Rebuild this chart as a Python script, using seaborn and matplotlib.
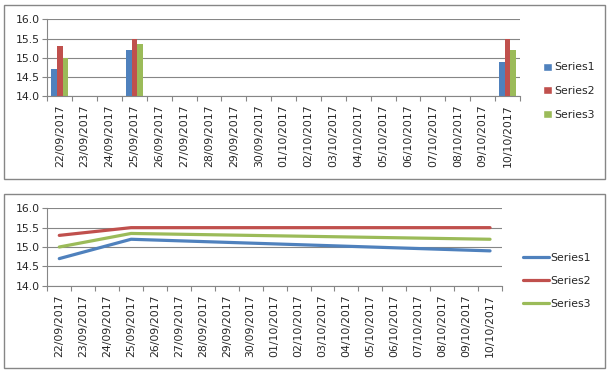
import pandas as pd
import matplotlib.pyplot as plt
import seaborn as sns
from matplotlib.patches import Rectangle
from matplotlib.ticker import FixedLocator, NullFormatter

#######################
#
# DATA
#
#######################
DATES = ['22/09/2017', '23/09/2017', '24/09/2017', '25/09/2017', '26/09/2017',
         '27/09/2017', '28/09/2017', '29/09/2017', '30/09/2017', '01/10/2017',
         '02/10/2017', '03/10/2017', '04/10/2017', '05/10/2017', '06/10/2017',
         '07/10/2017', '08/10/2017', '09/10/2017', '10/10/2017']
OBS_DATES = ['22/09/2017', '25/09/2017', '10/10/2017']
SERIES1 = [14.7, 15.2, 14.9]
SERIES2 = [15.3, 15.5, 15.5]
SERIES3 = [15.0, 15.35, 15.2]
SERIES_NAMES = ['Series1', 'Series2', 'Series3']
Y_TICKS = [14.0, 14.5, 15.0, 15.5, 16.0]

COLORS = ['#4F81BD', '#C0504D', '#9BBB59']
GRID = '#868686'
FS = 7.8

rows = []
for name, vals in zip(SERIES_NAMES, [SERIES1, SERIES2, SERIES3]):
    for d, v in zip(OBS_DATES, vals):
        rows.append({'date': d, 'pos': DATES.index(d), 'series': name, 'value': v})
df = pd.DataFrame(rows)

sns.set_style('white')
plt.rcParams['font.family'] = ['DejaVu Sans']

W, H = 608, 371
fig = plt.figure(figsize=(W / 100, H / 100), dpi=100)

# outer chart frames
for (x0, y0, x1, y1) in [(4, 5, 605, 179), (4, 194, 605, 368)]:
    fig.add_artist(Rectangle((x0 / W, 1 - y1 / H), (x1 - x0) / W, (y1 - y0) / H,
                             transform=fig.transFigure, fill=False,
                             edgecolor=GRID, linewidth=1.0))


def style_axis(ax):
    ax.set_ylim(14, 16)
    ax.set_xlim(-0.5, len(DATES) - 0.5)
    ax.set_yticks(Y_TICKS)
    ax.set_yticklabels([f'{t:.1f}' for t in Y_TICKS], fontsize=FS)
    ax.yaxis.grid(True, color=GRID, linewidth=0.8)
    ax.set_axisbelow(True)
    for s in ['top', 'right']:
        ax.spines[s].set_visible(False)
    for s in ['left', 'bottom']:
        ax.spines[s].set_color(GRID)
        ax.spines[s].set_linewidth(0.8)
    # labels at category centres, tick marks between categories
    ax.set_xticks(range(len(DATES)))
    ax.set_xticklabels(DATES, rotation=90, fontsize=FS)
    ax.tick_params(axis='x', which='major', length=0, pad=6)
    ax.xaxis.set_minor_locator(FixedLocator([i - 0.5 for i in range(len(DATES) + 1)]))
    ax.xaxis.set_minor_formatter(NullFormatter())
    ax.tick_params(axis='x', which='minor', bottom=True, length=3.5, color=GRID, width=0.8)
    ax.tick_params(axis='y', left=True, length=3.5, color=GRID, width=0.8, pad=2)
    ax.set_xlabel('')
    ax.set_ylabel('')


# top: clustered columns
ax1 = fig.add_axes([47.3 / W, 1 - 96.3 / H, (520 - 47.3) / W, (96.3 - 19.3) / H])
sns.barplot(data=df, x='date', y='value', hue='series', order=DATES,
            hue_order=SERIES_NAMES, palette=COLORS, width=0.68, saturation=1,
            linewidth=0, edgecolor='none', ax=ax1, legend=False)
style_axis(ax1)

handles1 = [Rectangle((0, 0), 1, 1, facecolor=c) for c in COLORS]
fig.legend(handles1, SERIES_NAMES, loc='center left',
           bbox_to_anchor=(543 / W, 1 - 91 / H), frameon=False, fontsize=FS,
           handlelength=0.8, handleheight=0.8, handletextpad=0.2,
           labelspacing=1.25, borderpad=0, borderaxespad=0)

# bottom: lines
ax2 = fig.add_axes([47.3 / W, 1 - 285.7 / H, (502 - 47.3) / W, (285.7 - 208.3) / H])
sns.lineplot(data=df, x='pos', y='value', hue='series', hue_order=SERIES_NAMES,
             palette=COLORS, linewidth=2.3, ax=ax2, legend=False)
style_axis(ax2)

handles2 = [plt.Line2D([0], [0], color=c, linewidth=2.3) for c in COLORS]
fig.legend(handles2, SERIES_NAMES, loc='center left',
           bbox_to_anchor=(523 / W, 1 - 281 / H), frameon=False, fontsize=FS,
           handlelength=2.4, handletextpad=0.1,
           labelspacing=1.2, borderpad=0, borderaxespad=0)

fig.savefig('out.png', dpi=100)
